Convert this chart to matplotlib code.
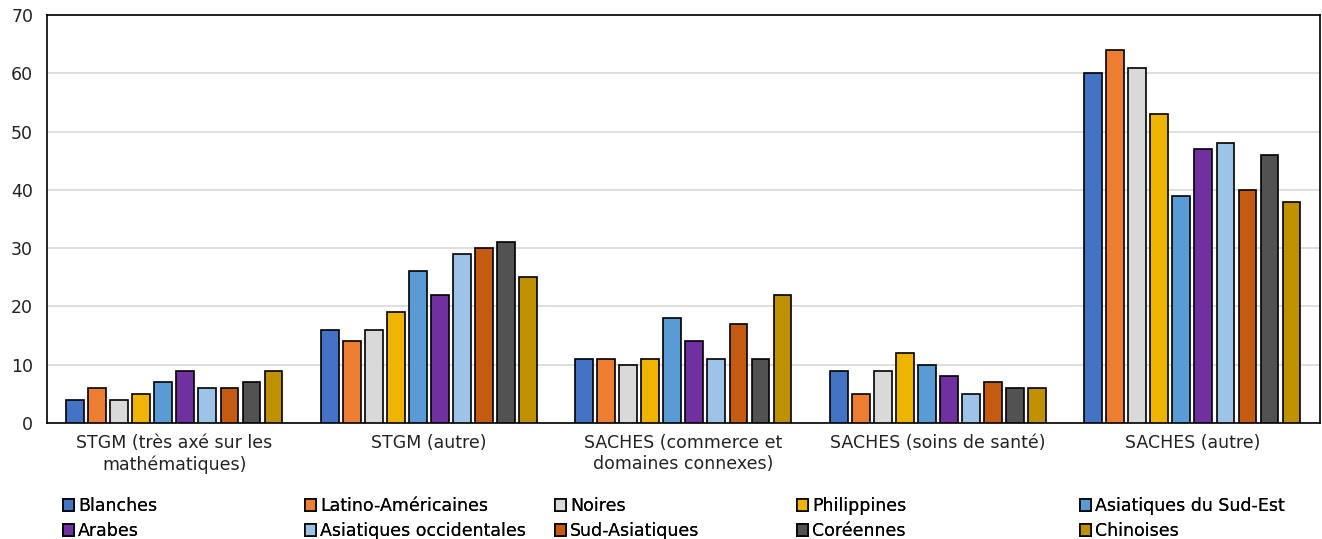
import numpy as np
import matplotlib.pyplot as plt

categories = ["STGM (très axé sur les\nmathématiques)", "STGM (autre)",
              "SACHES (commerce et\ndomaines connexes)", "SACHES (soins de santé)",
              "SACHES (autre)"]
series = ["Blanches", "Latino-Américaines", "Noires", "Philippines",
          "Asiatiques du Sud-Est", "Arabes", "Asiatiques occidentales",
          "Sud-Asiatiques", "Coréennes", "Chinoises"]

blanches = [4, 16, 11, 9, 60]
latino = [6, 14, 11, 5, 64]
noires = [4, 16, 10, 9, 61]
philippines = [5, 19, 11, 12, 53]
sud_est = [7, 26, 18, 10, 39]
arabes = [9, 22, 14, 8, 47]
occidentales = [6, 29, 11, 5, 48]
sud_asiatiques = [6, 30, 17, 7, 40]
coreennes = [7, 31, 11, 6, 46]
chinoises = [9, 25, 22, 6, 38]

values = [blanches, latino, noires, philippines, sud_est, arabes,
          occidentales, sud_asiatiques, coreennes, chinoises]
colors = ["#4472C4", "#ED7D31", "#D9D9D9", "#EEB400", "#5B9BD5",
          "#7030A0", "#9DC3E6", "#C55A11", "#525252", "#BF9000"]

plt.rcParams['font.family'] = ['DejaVu Sans']
fig = plt.figure(figsize=(13.22, 5.39), dpi=100)
ax = fig.add_axes([0.0356, 0.2152, 0.9626, 0.7568])

x = np.arange(len(categories))
pitch = 0.0866
width = 0.07
handles = []
for i, (name, vals, c) in enumerate(zip(series, values, colors)):
    b = ax.bar(x + (i - 4.5) * pitch, vals, width, color=c, edgecolor="black",
               linewidth=1.2, label=name, zorder=3)
    handles.append(b)

ax.set_xlim(-0.5, len(categories) - 0.5)
ax.set_ylim(0, 70)
ax.set_yticks(range(0, 71, 10))
ax.set_xticks(x)
ax.set_xticklabels(categories, fontsize=12.5, color="#222222", linespacing=1.2)
ax.tick_params(axis="both", length=0, labelsize=12.5, colors="#222222")
ax.tick_params(axis="y", pad=10)
ax.tick_params(axis="x", pad=8)
ax.yaxis.grid(True, color="#D9D9D9", linewidth=1.2, zorder=0)
for s in ax.spines.values():
    s.set_color("black")
    s.set_linewidth(1.2)

# legend: 5 columns of 2 rows, placed at the reference column positions
col_x = [63, 305, 555, 797, 1080]
for j, cx in enumerate(col_x):
    idx = [j, j + 5]
    leg = fig.legend([handles[k] for k in idx], [series[k] for k in idx],
                     loc="upper left", bbox_to_anchor=(cx / 1322, 1 - 497 / 539),
                     frameon=False, fontsize=12.5, handlelength=0.65,
                     handleheight=0.65, handletextpad=0.2, labelspacing=0.4,
                     borderpad=0, borderaxespad=0)
    fig.add_artist(leg)

fig.savefig("out.png", dpi=100)
